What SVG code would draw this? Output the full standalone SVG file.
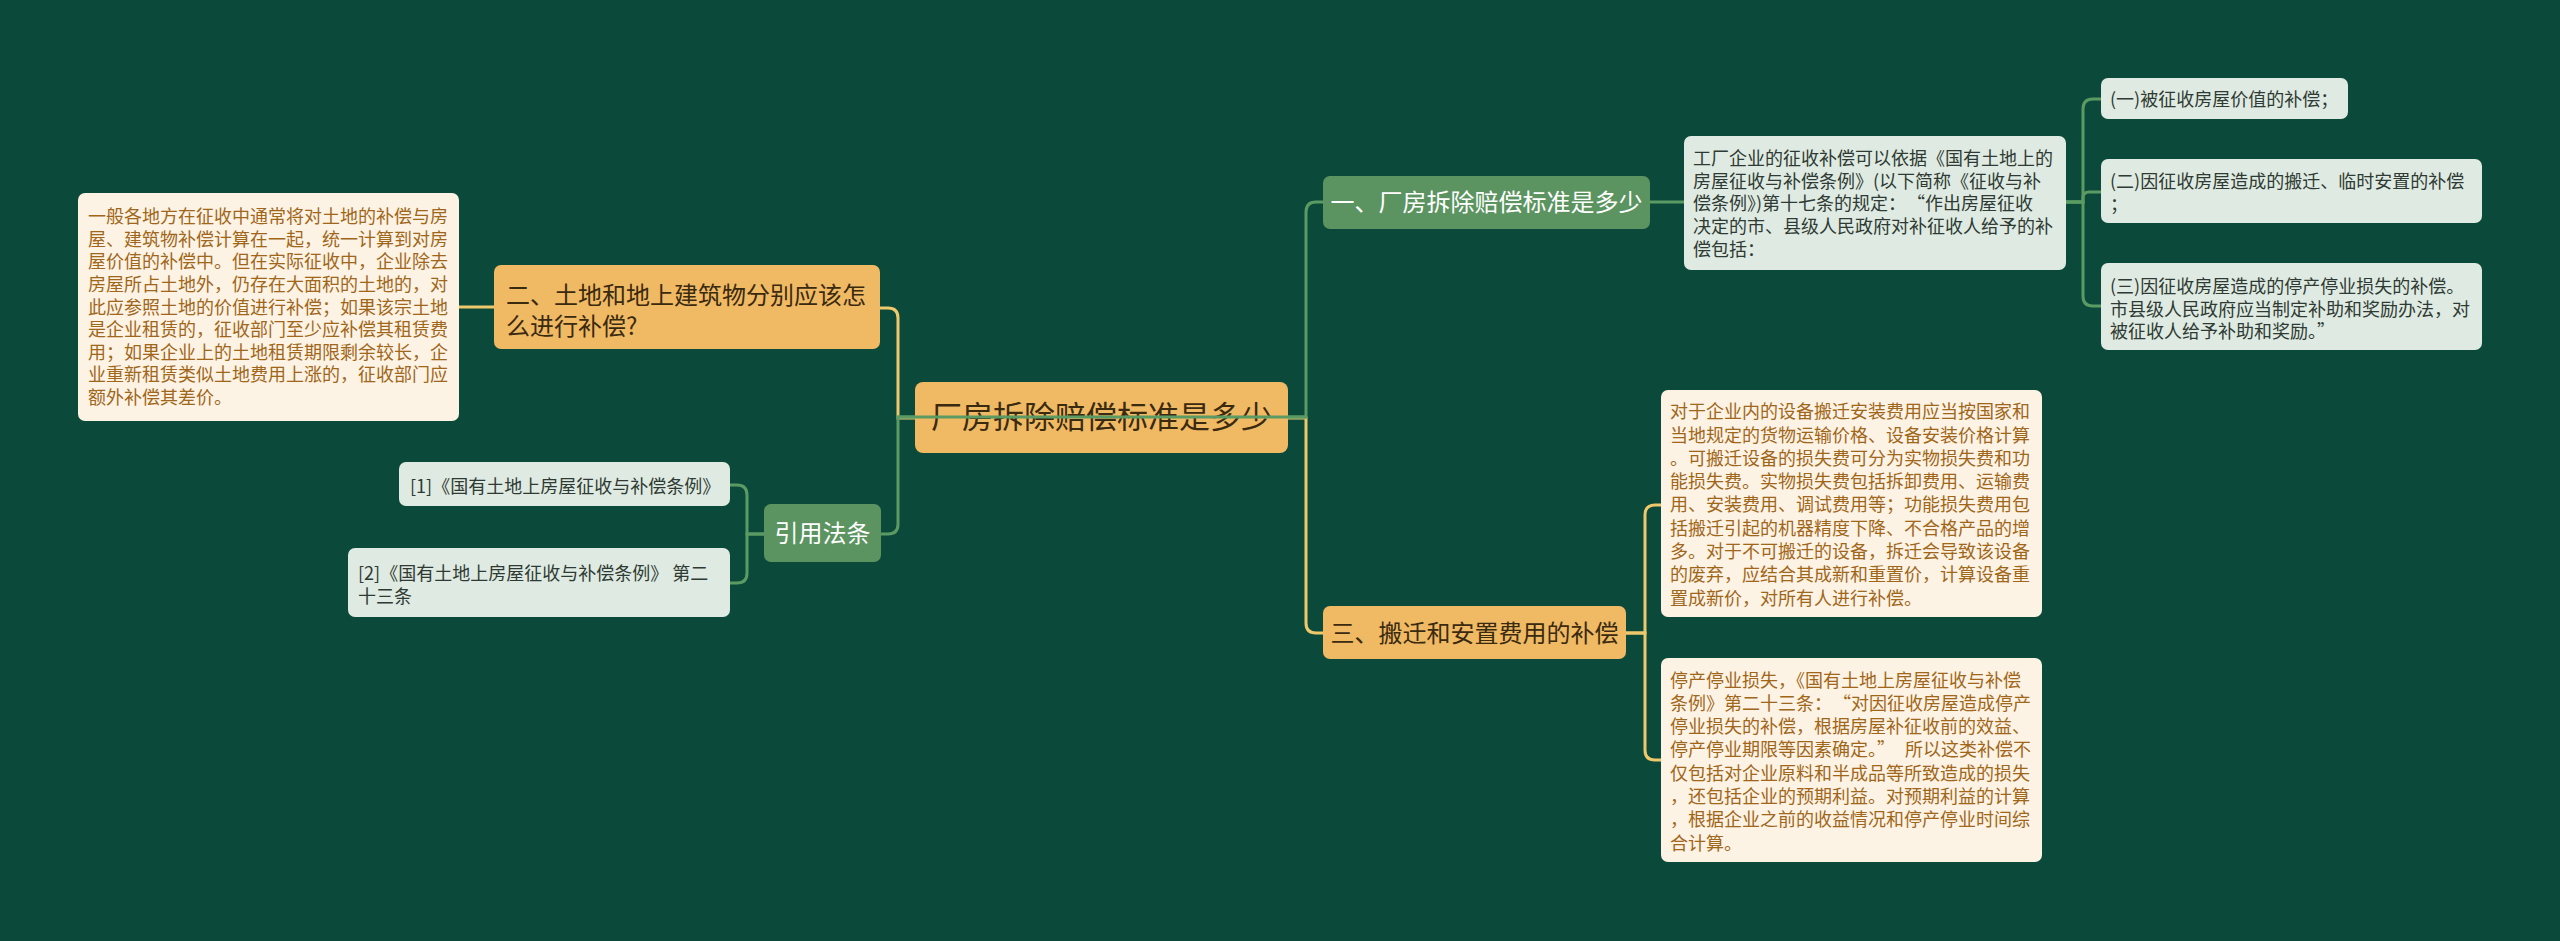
<svg xmlns="http://www.w3.org/2000/svg" width="2560" height="941" viewBox="0 0 2560 941">
<style>
text{font-family:"Noto Sans CJK SC","Noto Sans",sans-serif;}
.bg{fill:#0b4a3a;}
.yel{fill:#f0b963;}
.grn{fill:#5b9460;}
.lg{fill:#dfeae2;}
.cr{fill:#fdf3e4;}
.tdark{fill:#3a2a10;}
.twhite{fill:#ffffff;}
.tgray{fill:#2e3a33;font-size:18px;}
.tbrown{fill:#a0661a;font-size:18px;}
.cy{fill:none;stroke:#efc86b;stroke-width:3;}
.cg{fill:none;stroke:#5b9a63;stroke-width:3;}
</style>
<rect class="bg" x="0" y="0" width="2560" height="941"/>

<g id="root">
<rect class="yel" x="915" y="382" width="373" height="71" rx="8"/>
<text class="tdark" x="1101.5" y="428" font-size="31" text-anchor="middle">厂房拆除赔偿标准是多少</text>
</g>

<g id="branch1">
<rect class="grn" x="1323" y="176" width="327" height="53" rx="7"/>
<text class="twhite" x="1486.5" y="211" font-size="24" text-anchor="middle">一、厂房拆除赔偿标准是多少</text>
</g>

<g id="branch3">
<rect class="yel" x="1323" y="606" width="303" height="53" rx="7"/>
<text class="tdark" x="1474.5" y="642" font-size="24" text-anchor="middle">三、搬迁和安置费用的补偿</text>
</g>

<g id="branch2">
<rect class="yel" x="494" y="265" width="386" height="84" rx="7"/>
<text class="tdark" font-size="24"><tspan x="506" y="304">二、土地和地上建筑物分别应该怎</tspan><tspan x="506" y="335">么进行补偿?</tspan></text>
</g>

<g id="cite">
<rect class="grn" x="764" y="504" width="117" height="58" rx="7"/>
<text class="twhite" x="822.5" y="542" font-size="24" text-anchor="middle">引用法条</text>
</g>

<g id="land-detail">
<rect class="cr" x="78" y="193" width="381" height="228" rx="7"/>
<text class="tbrown"><tspan x="88" y="223.2">一般各地方在征收中通常将对土地的补偿与房</tspan><tspan x="88" y="245.8">屋、建筑物补偿计算在一起，统一计算到对房</tspan><tspan x="88" y="268.4">屋价值的补偿中。但在实际征收中，企业除去</tspan><tspan x="88" y="291">房屋所占土地外，仍存在大面积的土地的，对</tspan><tspan x="88" y="313.6">此应参照土地的价值进行补偿；如果该宗土地</tspan><tspan x="88" y="336.2">是企业租赁的，征收部门至少应补偿其租赁费</tspan><tspan x="88" y="358.8">用；如果企业上的土地租赁期限剩余较长，企</tspan><tspan x="88" y="381.4">业重新租赁类似土地费用上涨的，征收部门应</tspan><tspan x="88" y="404">额外补偿其差价。</tspan></text>
</g>

<g id="cite1">
<rect class="lg" x="399" y="462" width="331" height="44" rx="7"/>
<text class="tgray" x="410" y="492.5">[1]《国有土地上房屋征收与补偿条例》</text>
</g>

<g id="cite2">
<rect class="lg" x="348" y="548" width="382" height="69" rx="7"/>
<text class="tgray"><tspan x="358" y="579.5">[2]《国有土地上房屋征收与补偿条例》 第二</tspan><tspan x="358" y="603">十三条</tspan></text>
</g>

<g id="b1-detail">
<rect class="lg" x="1684" y="136" width="382" height="134" rx="7"/>
<text class="tgray"><tspan x="1693" y="165">工厂企业的征收补偿可以依据《国有土地上的</tspan><tspan x="1693" y="187.7">房屋征收与补偿条例》(以下简称《征收与补</tspan><tspan x="1693" y="210.4">偿条例》)第十七条的规定：<tspan dx="10">“</tspan>作出房屋征收</tspan><tspan x="1693" y="233.1">决定的市、县级人民政府对补征收人给予的补</tspan><tspan x="1693" y="255.8">偿包括：</tspan></text>
</g>

<g id="item1">
<rect class="lg" x="2101" y="78" width="247" height="41" rx="7"/>
<text class="tgray" x="2110" y="105.5">(一)被征收房屋价值的补偿；</text>
</g>

<g id="item2">
<rect class="lg" x="2101" y="159" width="381" height="64" rx="7"/>
<text class="tgray"><tspan x="2110" y="188">(二)因征收房屋造成的搬迁、临时安置的补偿</tspan><tspan x="2110" y="210.7">；</tspan></text>
</g>

<g id="item3">
<rect class="lg" x="2101" y="263" width="381" height="87" rx="7"/>
<text class="tgray"><tspan x="2110" y="293">(三)因征收房屋造成的停产停业损失的补偿。</tspan><tspan x="2110" y="315.7">市县级人民政府应当制定补助和奖励办法，对</tspan><tspan x="2110" y="338.4">被征收人给予补助和奖励。”</tspan></text>
</g>

<g id="b3-detailA">
<rect class="cr" x="1661" y="390" width="381" height="227" rx="7"/>
<text class="tbrown"><tspan x="1670" y="418.2">对于企业内的设备搬迁安装费用应当按国家和</tspan><tspan x="1670" y="441.5">当地规定的货物运输价格、设备安装价格计算</tspan><tspan x="1670" y="464.8">。可搬迁设备的损失费可分为实物损失费和功</tspan><tspan x="1670" y="488.1">能损失费。实物损失费包括拆卸费用、运输费</tspan><tspan x="1670" y="511.4">用、安装费用、调试费用等；功能损失费用包</tspan><tspan x="1670" y="534.7">括搬迁引起的机器精度下降、不合格产品的增</tspan><tspan x="1670" y="558">多。对于不可搬迁的设备，拆迁会导致该设备</tspan><tspan x="1670" y="581.3">的废弃，应结合其成新和重置价，计算设备重</tspan><tspan x="1670" y="604.6">置成新价，对所有人进行补偿。</tspan></text>
</g>

<g id="b3-detailB">
<rect class="cr" x="1661" y="658" width="381" height="204" rx="7"/>
<text class="tbrown"><tspan x="1670" y="686.5">停产停业损失，《国有土地上房屋征收与补偿</tspan><tspan x="1670" y="709.8">条例》第二十三条：<tspan dx="10">“</tspan>对因征收房屋造成停产</tspan><tspan x="1670" y="733.1">停业损失的补偿，根据房屋补征收前的效益、</tspan><tspan x="1670" y="756.4">停产停业期限等因素确定。”<tspan dx="10">所</tspan>以这类补偿不</tspan><tspan x="1670" y="779.7">仅包括对企业原料和半成品等所致造成的损失</tspan><tspan x="1670" y="803">，还包括企业的预期利益。对预期利益的计算</tspan><tspan x="1670" y="826.3">，根据企业之前的收益情况和停产停业时间综</tspan><tspan x="1670" y="849.6">合计算。</tspan></text>
</g>

<g id="connectors">
<path class="cy" d="M915 418 H898 V318 Q898 308 888 308 H880"/>
<path class="cy" d="M1288 418 H1306 V623 Q1306 633 1316 633 H1323"/>
<path class="cy" d="M494 307 H459"/>
<path class="cy" d="M1626 633 H1645 V515 Q1645 505 1655 505 H1661"/>
<path class="cy" d="M1626 633 H1645 V750 Q1645 760 1655 760 H1661"/>
<path class="cg" d="M898 417 H1306"/>
<path class="cg" d="M915 417 H898 V524 Q898 534 888 534 H881"/>
<path class="cg" d="M1288 417 H1306 V212 Q1306 202 1316 202 H1323"/>
<path class="cg" d="M1650 202 H1684"/>
<path class="cg" d="M2066 202 H2083 V109 Q2083 99 2093 99 H2101"/>
<path class="cg" d="M2066 202 H2083 V198 Q2083 192 2089 192 H2101"/>
<path class="cg" d="M2066 202 H2083 V296 Q2083 306 2093 306 H2101"/>
<path class="cg" d="M764 534 H747 V495 Q747 485 737 485 H730"/>
<path class="cg" d="M764 534 H747 V573 Q747 583 737 583 H730"/>
</g>
</svg>
